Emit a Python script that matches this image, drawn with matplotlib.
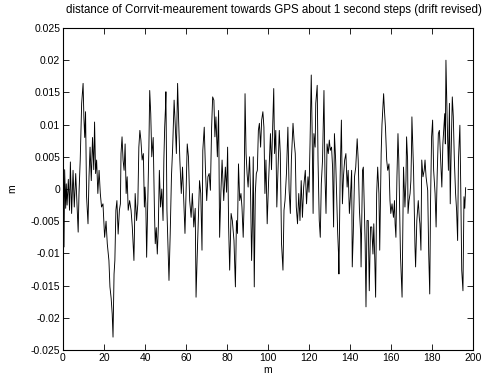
import matplotlib
matplotlib.use("Agg")
import matplotlib.pyplot as plt
import numpy as np

plt.rcParams['font.family'] = ['Liberation Sans', 'DejaVu Sans']

title = "distance of Corrvit-meaurement towards GPS about 1 second steps (drift revised)"
xlabel = "m"
ylabel = "m"

# positions along track (m)
dist_x = [
    0.0, 0.2, 0.5, 0.8, 1.3, 1.6, 2.0, 2.6, 3.2, 3.6, 4.2, 4.9, 5.5, 6.2, 6.8, 7.4, 7.8, 8.4, 9.1, 9.8,
    10.2, 10.6, 11.0, 11.5, 12.2, 12.7, 13.2, 13.8, 14.4, 15.0, 15.4, 15.9, 16.4, 17.0, 17.6, 18.2, 18.8, 19.5,
    20.3, 21.0, 21.6, 22.4, 22.9, 23.5, 24.0, 24.4, 24.9, 25.3, 25.8, 26.3, 26.9, 27.5, 28.0, 28.3, 28.8, 29.3,
    29.8, 30.3, 30.8, 31.3, 31.8, 32.5, 33.2, 33.8, 34.6, 35.2, 35.9, 36.5, 37.0, 37.5, 38.0, 38.6, 39.2, 39.7,
    40.0, 40.4, 40.8, 41.4, 41.9, 42.3, 42.8, 43.3, 44.0, 44.6, 45.0, 45.5, 46.0, 46.5, 47.0, 47.6, 48.2, 48.8,
    49.2, 49.6, 50.0, 50.2, 50.7, 51.2, 51.7, 52.3, 52.9, 53.5, 54.2, 54.8, 55.3, 55.9, 56.4, 57.0, 57.7, 58.3,
    58.9, 59.5, 60.1, 60.6, 61.2, 61.8, 62.5, 63.1, 63.8, 64.5, 64.9, 65.4, 66.0, 66.6, 67.2, 67.8, 68.2, 68.9,
    69.5, 70.1, 70.7, 71.3, 71.9, 72.5, 73.0, 73.6, 74.1, 74.6, 75.3, 75.9, 76.4, 77.0, 77.6, 78.4, 79.2, 79.8,
    80.3, 80.8, 81.3, 82.0, 82.6, 83.4, 84.1, 84.6, 85.1, 85.6, 86.2, 86.8, 87.3, 87.9, 88.3, 88.8, 89.3, 89.8,
    90.3, 91.0, 91.5, 92.0, 92.4, 92.8, 93.3, 93.8, 94.3, 94.8, 95.3, 95.8, 96.4, 96.9, 97.5, 98.0, 98.5, 99.0,
    99.6, 100.3, 101.2, 101.7, 102.8, 103.2, 103.8, 104.3, 104.9, 105.5, 106.0, 106.6, 107.3, 107.8, 108.3,
    109.0, 109.7, 110.3, 110.9, 111.4, 112.2, 112.7, 113.3, 113.8, 114.4, 115.0, 115.6, 116.2, 116.8, 117.4,
    118.2, 118.8, 119.5,
    120.0, 120.5, 121.1, 121.5, 122.0, 122.4, 123.0, 123.3, 124.0, 124.4, 125.0, 125.5, 126.0, 126.6, 127.3,
    127.8, 128.3, 128.8, 129.4, 129.9, 130.4, 131.0, 131.5, 132.0, 132.4, 133.0, 133.6, 134.0, 134.4, 134.6,
    135.2, 135.8, 136.3, 136.8, 137.4, 138.0, 138.6, 139.1, 139.7, 140.2, 140.8, 141.1, 141.6, 142.2, 142.8,
    143.5, 144.0, 144.6, 145.2, 145.4, 146.1, 146.5, 147.0, 147.4, 147.8, 148.3, 148.9, 149.4, 150.0, 150.6,
    151.2, 151.6, 152.1, 152.5, 153.0, 153.5, 154.1, 154.5, 155.2, 155.6, 156.4, 156.8, 157.3, 157.9, 158.4,
    159.0, 159.5, 159.9,
    160.5, 161.2, 161.7, 162.0, 162.4, 162.9, 163.4, 163.8, 164.6, 165.4, 165.7, 166.1, 166.8, 167.3, 167.6,
    168.1, 168.3, 168.8, 169.3, 169.7, 170.0, 170.2, 171.0, 171.7, 172.0, 172.6, 173.3, 173.8, 174.1, 174.6,
    175.0, 175.6, 176.2, 176.6, 177.1, 177.9, 178.4, 178.9, 179.3, 179.8, 180.3, 180.8, 181.5, 182.0, 182.5,
    183.1, 183.6, 184.2, 184.8, 185.3, 185.8, 186.2, 186.5, 186.8, 187.1, 187.4, 188.0, 188.5, 188.9, 189.3,
    189.9, 190.4, 190.9, 191.5, 192.0, 192.5, 192.9, 193.6, 194.0, 194.5, 195.1, 195.6, 196.0, 196.4,
]

# distance to GPS (mm)
dist_mm = [
    0.0, 5.0, -9.0, 3.0, -3.0, 0.8, -2.5, 1.5, -3.3, 4.2, -3.8, 2.9, -2.8, 2.4, -2.3, -6.7, -0.7, 4.5, 13.3, 16.4,
    11.0, 8.0, 12.0, -1.2, -5.4, 2.0, 6.5, 1.3, 8.0, 3.0, 10.4, 2.4, 4.5, -0.7, 2.9, -0.7, -2.8, -2.3,
    -7.5, -5.0, -8.5, -11.1, -15.2, -17.0, -19.4, -23.0, -13.2, -11.1, -3.3, -1.8, -7.0, -3.3, -2.3, 5.5, 8.1, 4.5,
    2.9, 7.0, -0.7, 1.9, -3.3, -1.8, -3.3, -5.9, -11.1, -0.7, -4.9, -2.3, 6.5, 9.1, 7.6, 4.5, 5.5, -2.8,
    0.3, -2.3, -10.6, -1.0, 6.5, 15.3, 11.7, 5.0, 8.0, -3.3, -8.5, -6.0, -10.1, -5.9, 2.9, -2.8, 0.0, -4.9,
    4.5, 9.6, 12.7, 15.1, -3.3, -9.0, -14.2, -6.9, 1.9, 6.5, 13.8, 9.6, 5.5, 16.4, 10.7, 4.5, -0.7, 3.4,
    -1.8, -6.9, 0.3, 7.0, 5.0, -1.8, -4.4, -0.7, -5.9, -3.0, -16.8, -11.1, -4.9, 1.3, -0.7, -9.5, 6.0, 9.6,
    2.9, -1.8, 1.9, 2.4, -0.2, 9.6, 14.3, 13.8, 8.1, 11.2, 5.0, 12.2, -7.5, -0.7, 4.5, -1.8, 3.4, -0.5,
    6.5, -5.9, -12.6, -3.8, -4.9, -8.0, -15.2, -4.9, -6.9, 3.9, -1.8, -0.7, -2.8, -7.5, -2.8, 14.8, 5.5, 2.4,
    0.3, 5.0, -0.7, -11.1, -5.4, 5.0, -15.2, -0.7, 2.4, 2.9, 9.1, 10.2, 6.5, 10.7, 12.0, 9.6, -0.7, 4.5,
    -5.4, 1.3, 8.6, 3.0, 15.6, 5.5, 9.1, -2.8, 3.4, 9.1, 5.5, -8.5, -12.6, -3.3, -1.8,
    2.4, 9.6, -0.2, -3.8, 4.5, 10.2, 7.6, 5.5, -2.8, -5.4, -0.7, -4.9, 1.3, -4.4, 0.3,
    2.9, -2.3, 1.9,
    -0.5, 7.0, 17.7, 9.6, -3.8, 8.6, 6.5, 13.3, 16.1, 4.5, -4.9, -7.5, 0.8, 4.5, 15.3,
    1.9, -3.8, 7.0, 5.5, 7.6, 6.0, 6.5, 3.4, -5.9, 8.6, 4.5, -2.3, -6.9, -10.1, -13.2,
    1.9, 10.7, -2.3, 1.9, 4.5, 5.5, 0.3, 2.9, -3.8, -1.2, 2.9, -12.1, -6.9, 1.9, 3.4,
    7.8, 4.5, -3.3, -6.9, -12.1, 2.9, 3.4, -3.3, -8.5, -18.3, -4.9, -4.9, -15.8, -5.9, -5.9,
    -10.1, -5.4, -11.1, -16.8, -0.7, 3.4, -0.7, -9.5, 5.5, 10.0, 14.8, 12.2, 9.6, 4.5, 2.9,
    3.9, -1.8, -3.8,
    -2.3, -4.4, -1.8, -5.4, -7.5, 1.9, 8.6, 4.5, -10.1, -16.8, -8.0, 3.4, -2.8, 1.3, 8.1,
    4.5, -3.8, -1.8, -0.7, 1.3, 6.0, 11.2, 2.9, -9.0, -12.1, -4.9, -1.8, -4.4, -5.4, -9.5,
    4.5, 1.9, 2.9, 4.5, 1.9, -0.2, -10.1, -16.3, -1.8, 8.1, 10.7, 2.9, -0.7, -5.9, 1.9,
    8.6, 9.1, 4.5, 0.3, 7.0, 9.6, 11.7, 7.0, 20.0, 15.0, 10.7, 2.9, 13.3, -2.3, 5.0,
    14.3, 11.2, 4.5, -0.7, -3.3, -8.0, 4.5, 9.9, 0.8, -12.6, -15.8, -1.2, -3.0, 0.2,
]

x_ticks = list(range(0, 201, 20))
y_ticks = [-0.025, -0.02, -0.015, -0.01, -0.005, 0, 0.005, 0.01, 0.015, 0.02, 0.025]
y_ticklabels = ["-0.025", "-0.02", "-0.015", "-0.01", "-0.005", "0", "0.005", "0.01", "0.015", "0.02", "0.025"]

W, H = 489, 378
fig = plt.figure(figsize=(W/100, H/100), dpi=100)
ax = fig.add_axes([63/W, 28/H, 410/W, 322/H])

ax.plot(dist_x, np.array(dist_mm) / 1000.0, color='black', linewidth=0.65)

ax.set_xlim(0, 200)
ax.set_ylim(-0.025, 0.025)
ax.set_xticks(x_ticks)
ax.set_yticks(y_ticks)
ax.set_yticklabels(y_ticklabels)
ax.tick_params(direction='in', length=4, width=0.6, top=True, right=True, labelsize=7.5, pad=2)
for s in ax.spines.values():
    s.set_linewidth(0.8)

fig.text(274/W, 1 - 10/H, title, fontsize=8.3, ha='center', va='center')
fig.text(268/W, 1 - 370/H, xlabel, fontsize=7.5, ha='center', va='center')
fig.text(12/W, 1 - 189/H, ylabel, fontsize=7.5, ha='center', va='center', rotation=90)

fig.savefig("out.png", dpi=100)
